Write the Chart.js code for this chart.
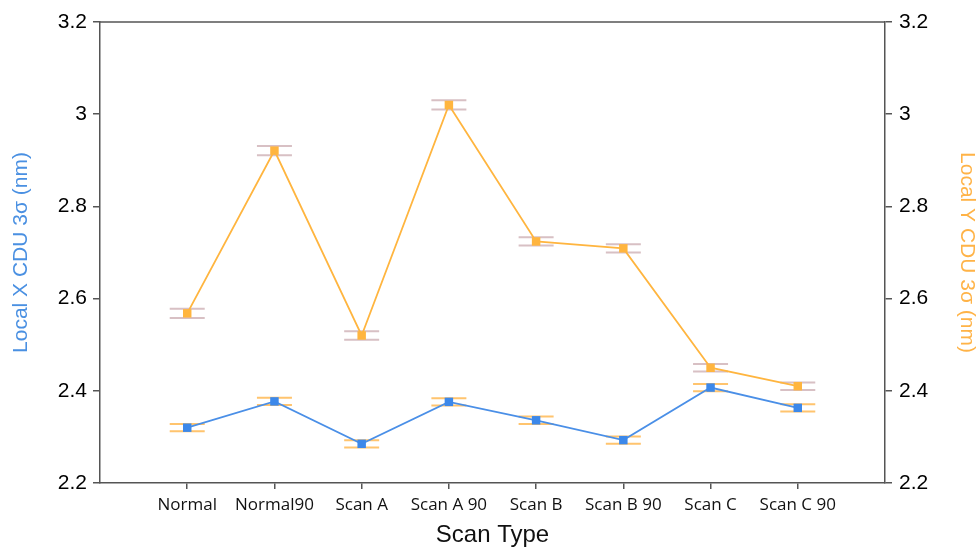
<!DOCTYPE html>
<html>
<head>
<meta charset="utf-8">
<script src="https://cdn.jsdelivr.net/npm/chart.js@4.4.1/dist/chart.umd.min.js"></script>
<style>
  html, body { margin: 0; padding: 0; background: #fff; }
  #wrap { width: 979px; height: 550px; }
</style>
</head>
<body>
<div id="wrap"><canvas id="c" width="979" height="550"></canvas></div>
<script>
// Scan types along the x axis
const categories = ['Normal', 'Normal90', 'Scan A', 'Scan A 90', 'Scan B', 'Scan B 90', 'Scan C', 'Scan C 90'];

// Local X CDU 3σ (nm), left axis
const localX = [2.320, 2.377, 2.285, 2.376, 2.336, 2.293, 2.407, 2.363];
const localXErr = [0.008, 0.008, 0.008, 0.008, 0.008, 0.008, 0.008, 0.008];

// Local Y CDU 3σ (nm), right axis
const localY = [2.568, 2.921, 2.520, 3.020, 2.724, 2.709, 2.450, 2.410];
const localYErr = [0.010, 0.010, 0.009, 0.010, 0.009, 0.009, 0.008, 0.008];

// Shared y tick values for both axes
const yTicks = [2.2, 2.4, 2.6, 2.8, 3.0, 3.2];

const blue = '#4A8FE7';
const orange = '#FFB53F';

const toPoints = vals => vals.map((v, i) => ({ x: i + 1, y: v }));

// Error bars: thin vertical stem plus two horizontal caps
const errorBars = {
  id: 'errorBars',
  beforeDatasetsDraw(chart) {
    const ctx = chart.ctx;
    const xs = chart.scales.x;
    chart.data.datasets.forEach(ds => {
      const ys = chart.scales[ds.yAxisID];
      ctx.save();
      ctx.strokeStyle = ds.errColor;
      ds.data.forEach((p, i) => {
        const e = ds.errors[i];
        const px = xs.getPixelForValue(p.x);
        const yHi = ys.getPixelForValue(p.y + e);
        const yLo = ys.getPixelForValue(p.y - e);
        const half = 17.5;
        ctx.lineWidth = 2;
        ctx.beginPath();
        ctx.moveTo(px - half, yHi); ctx.lineTo(px + half, yHi);
        ctx.moveTo(px - half, yLo); ctx.lineTo(px + half, yLo);
        ctx.stroke();
        ctx.lineWidth = 1;
        ctx.beginPath();
        ctx.moveTo(px, yHi); ctx.lineTo(px, yLo);
        ctx.stroke();
      });
      ctx.restore();
    });
  }
};

// Top frame line closing the plot box
const frameTop = {
  id: 'frameTop',
  afterDraw(chart) {
    const a = chart.chartArea;
    const ctx = chart.ctx;
    ctx.save();
    ctx.strokeStyle = '#555';
    ctx.lineWidth = 1.5;
    ctx.beginPath();
    ctx.moveTo(a.left, a.top);
    ctx.lineTo(a.right, a.top);
    ctx.stroke();
    ctx.restore();
  }
};

const yAxisBase = {
  type: 'linear',
  min: 2.2,
  max: 3.2,
  afterBuildTicks: s => { s.ticks = yTicks.map(v => ({ value: v })); },
  grid: { drawOnChartArea: false, drawTicks: true, tickLength: 7, color: '#555', lineWidth: 1.5 },
  border: { display: true, color: '#555', width: 1.5 },
  ticks: {
    color: '#000',
    padding: 6,
    font: { family: 'Liberation Sans', size: 21 },
    callback: v => (Math.round(v * 10) / 10).toString()
  }
};

new Chart(document.getElementById('c'), {
  type: 'line',
  data: {
    datasets: [
      {
        label: 'Local Y CDU 3σ',
        data: toPoints(localY),
        errors: localYErr,
        errColor: '#D8C0C4',
        yAxisID: 'y2',
        borderColor: orange,
        backgroundColor: orange,
        borderWidth: 1.8,
        pointStyle: 'rect',
        pointRadius: 6,
        pointBorderWidth: 0,
        tension: 0
      },
      {
        label: 'Local X CDU 3σ',
        data: toPoints(localX),
        errors: localXErr,
        errColor: '#FFC46E',
        yAxisID: 'y',
        borderColor: blue,
        backgroundColor: '#3C88EA',
        borderWidth: 1.8,
        pointStyle: 'rect',
        pointRadius: 6,
        pointBorderWidth: 0,
        tension: 0
      }
    ]
  },
  options: {
    responsive: false,
    animation: false,
    layout: { padding: { top: 22, left: 0, right: 0, bottom: 0 } },
    plugins: { legend: { display: false }, tooltip: { enabled: false } },
    scales: {
      x: {
        type: 'linear',
        min: 0,
        max: 9,
        afterBuildTicks: s => { s.ticks = categories.map((c, i) => ({ value: i + 1 })); },
        afterFit: s => { s.height = 67; },
        grid: { drawOnChartArea: false, drawTicks: true, tickLength: 6, color: '#555', lineWidth: 1.5 },
        border: { display: true, color: '#555', width: 1.5 },
        ticks: {
          color: '#111',
          padding: 6,
          maxRotation: 0,
          autoSkip: false,
          font: { family: 'Open Sans', size: 17 },
          callback: v => categories[Math.round(v) - 1] || ''
        },
        title: {
          display: true,
          text: 'Scan Type',
          color: '#111',
          font: { family: 'Liberation Sans', size: 24 },
          padding: { top: 0, bottom: 0 }
        }
      },
      y: Object.assign({}, yAxisBase, {
        position: 'left',
        afterFit: s => { s.width = 100; },
        title: {
          display: true,
          text: 'Local X CDU 3σ (nm)',
          color: '#4A90E2',
          font: { family: 'Liberation Sans', size: 21 },
          padding: { top: 9, bottom: 0 }
        }
      }),
      y2: Object.assign({}, yAxisBase, {
        position: 'right',
        afterFit: s => { s.width = 94; },
        ticks: Object.assign({}, yAxisBase.ticks, { padding: 7 }),
        title: {
          display: true,
          text: 'Local Y CDU 3σ (nm)',
          color: '#FFB347',
          font: { family: 'Liberation Sans', size: 21 },
          padding: { top: 0, bottom: 3 }
        }
      })
    }
  },
  plugins: [errorBars, frameTop]
});
</script>
</body>
</html>
